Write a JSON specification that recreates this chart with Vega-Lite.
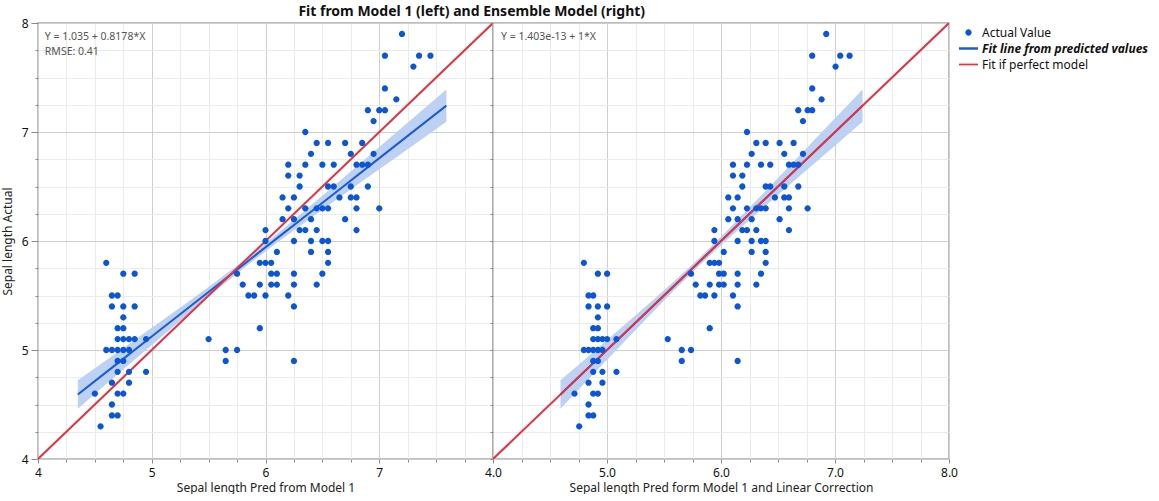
{
  "$schema": "https://vega.github.io/schema/vega-lite/v6.json",
  "background": "white",
  "padding": {"left": 0, "top": 5, "right": 0, "bottom": 0},
  "title": {"text": "Fit from Model 1 (left) and Ensemble Model (right)", "fontSize": 14, "fontWeight": "bold", "font": "Noto Sans", "anchor": "start", "dx": 298, "offset": -3, "color": "#111"},
  "datasets": {
    "pts": [
      {"p1":7.20,"ens":6.923,"actual":7.9},
      {"p1":7.05,"ens":6.800,"actual":7.7},{"p1":7.35,"ens":7.046,"actual":7.7},{"p1":7.45,"ens":7.128,"actual":7.7},
      {"p1":7.30,"ens":7.005,"actual":7.6},
      {"p1":7.05,"ens":6.800,"actual":7.4},
      {"p1":7.15,"ens":6.882,"actual":7.3},
      {"p1":6.90,"ens":6.678,"actual":7.2},{"p1":7.00,"ens":6.760,"actual":7.2},{"p1":7.05,"ens":6.800,"actual":7.2},
      {"p1":6.95,"ens":6.719,"actual":7.1},
      {"p1":6.35,"ens":6.228,"actual":7.0},
      {"p1":6.45,"ens":6.310,"actual":6.9},{"p1":6.55,"ens":6.392,"actual":6.9},{"p1":6.70,"ens":6.514,"actual":6.9},{"p1":6.85,"ens":6.637,"actual":6.9},
      {"p1":6.40,"ens":6.269,"actual":6.8},{"p1":6.75,"ens":6.555,"actual":6.8},{"p1":6.95,"ens":6.719,"actual":6.8},
      {"p1":6.20,"ens":6.105,"actual":6.7},{"p1":6.35,"ens":6.228,"actual":6.7},{"p1":6.50,"ens":6.351,"actual":6.7},{"p1":6.60,"ens":6.432,"actual":6.7},{"p1":6.80,"ens":6.596,"actual":6.7},{"p1":6.85,"ens":6.637,"actual":6.7},{"p1":6.90,"ens":6.678,"actual":6.7},
      {"p1":6.20,"ens":6.105,"actual":6.6},{"p1":6.30,"ens":6.187,"actual":6.6},
      {"p1":6.30,"ens":6.187,"actual":6.5},{"p1":6.55,"ens":6.392,"actual":6.5},{"p1":6.60,"ens":6.432,"actual":6.5},{"p1":6.75,"ens":6.555,"actual":6.5},{"p1":6.90,"ens":6.678,"actual":6.5},
      {"p1":6.15,"ens":6.064,"actual":6.4},{"p1":6.25,"ens":6.146,"actual":6.4},{"p1":6.65,"ens":6.473,"actual":6.4},{"p1":6.75,"ens":6.555,"actual":6.4},{"p1":6.80,"ens":6.596,"actual":6.4},
      {"p1":6.20,"ens":6.105,"actual":6.3},{"p1":6.35,"ens":6.228,"actual":6.3},{"p1":6.45,"ens":6.310,"actual":6.3},{"p1":6.50,"ens":6.351,"actual":6.3},{"p1":6.55,"ens":6.392,"actual":6.3},{"p1":6.80,"ens":6.596,"actual":6.3},{"p1":7.00,"ens":6.760,"actual":6.3},
      {"p1":6.15,"ens":6.064,"actual":6.2},{"p1":6.25,"ens":6.146,"actual":6.2},{"p1":6.40,"ens":6.269,"actual":6.2},{"p1":6.70,"ens":6.514,"actual":6.2},
      {"p1":6.00,"ens":5.942,"actual":6.1},{"p1":6.30,"ens":6.187,"actual":6.1},{"p1":6.35,"ens":6.228,"actual":6.1},{"p1":6.45,"ens":6.310,"actual":6.1},{"p1":6.80,"ens":6.596,"actual":6.1},
      {"p1":6.00,"ens":5.942,"actual":6.0},{"p1":6.25,"ens":6.146,"actual":6.0},{"p1":6.40,"ens":6.269,"actual":6.0},{"p1":6.50,"ens":6.351,"actual":6.0},{"p1":6.55,"ens":6.392,"actual":6.0},
      {"p1":6.10,"ens":6.024,"actual":5.9},{"p1":6.40,"ens":6.269,"actual":5.9},{"p1":6.55,"ens":6.392,"actual":5.9},
      {"p1":4.60,"ens":4.797,"actual":5.8},{"p1":5.95,"ens":5.901,"actual":5.8},{"p1":6.00,"ens":5.942,"actual":5.8},{"p1":6.05,"ens":5.983,"actual":5.8},{"p1":6.55,"ens":6.392,"actual":5.8},
      {"p1":4.75,"ens":4.920,"actual":5.7},{"p1":4.85,"ens":5.001,"actual":5.7},{"p1":5.75,"ens":5.737,"actual":5.7},{"p1":6.05,"ens":5.983,"actual":5.7},{"p1":6.10,"ens":6.024,"actual":5.7},{"p1":6.25,"ens":6.146,"actual":5.7},{"p1":6.50,"ens":6.351,"actual":5.7},
      {"p1":5.80,"ens":5.778,"actual":5.6},{"p1":5.95,"ens":5.901,"actual":5.6},{"p1":6.05,"ens":5.983,"actual":5.6},{"p1":6.10,"ens":6.024,"actual":5.6},{"p1":6.25,"ens":6.146,"actual":5.6},{"p1":6.45,"ens":6.310,"actual":5.6},
      {"p1":4.65,"ens":4.838,"actual":5.5},{"p1":4.70,"ens":4.879,"actual":5.5},{"p1":5.85,"ens":5.819,"actual":5.5},{"p1":5.90,"ens":5.860,"actual":5.5},{"p1":6.00,"ens":5.942,"actual":5.5},{"p1":6.20,"ens":6.105,"actual":5.5},
      {"p1":4.65,"ens":4.838,"actual":5.4},{"p1":4.75,"ens":4.920,"actual":5.4},{"p1":4.85,"ens":5.001,"actual":5.4},{"p1":6.25,"ens":6.146,"actual":5.4},
      {"p1":4.75,"ens":4.920,"actual":5.3},
      {"p1":4.70,"ens":4.879,"actual":5.2},{"p1":4.75,"ens":4.920,"actual":5.2},{"p1":5.95,"ens":5.901,"actual":5.2},
      {"p1":4.70,"ens":4.879,"actual":5.1},{"p1":4.75,"ens":4.920,"actual":5.1},{"p1":4.80,"ens":4.960,"actual":5.1},{"p1":4.85,"ens":5.001,"actual":5.1},{"p1":4.95,"ens":5.083,"actual":5.1},{"p1":5.50,"ens":5.533,"actual":5.1},
      {"p1":4.60,"ens":4.797,"actual":5.0},{"p1":4.65,"ens":4.838,"actual":5.0},{"p1":4.70,"ens":4.879,"actual":5.0},{"p1":4.75,"ens":4.920,"actual":5.0},{"p1":4.80,"ens":4.960,"actual":5.0},{"p1":5.65,"ens":5.656,"actual":5.0},{"p1":5.75,"ens":5.737,"actual":5.0},
      {"p1":4.70,"ens":4.879,"actual":4.9},{"p1":4.75,"ens":4.920,"actual":4.9},{"p1":5.65,"ens":5.656,"actual":4.9},{"p1":6.25,"ens":6.146,"actual":4.9},
      {"p1":4.70,"ens":4.879,"actual":4.8},{"p1":4.80,"ens":4.960,"actual":4.8},{"p1":4.95,"ens":5.083,"actual":4.8},
      {"p1":4.65,"ens":4.838,"actual":4.7},{"p1":4.80,"ens":4.960,"actual":4.7},
      {"p1":4.50,"ens":4.715,"actual":4.6},{"p1":4.70,"ens":4.879,"actual":4.6},{"p1":4.75,"ens":4.920,"actual":4.6},
      {"p1":4.65,"ens":4.838,"actual":4.5},
      {"p1":4.65,"ens":4.838,"actual":4.4},{"p1":4.70,"ens":4.879,"actual":4.4},
      {"p1":4.55,"ens":4.756,"actual":4.3}
    ],
    "band": [
      {"p1":4.35,"fit":4.592,"lo":4.462,"hi":4.722},
      {"p1":4.55,"fit":4.756,"lo":4.642,"hi":4.870},
      {"p1":4.80,"fit":4.960,"lo":4.866,"hi":5.054},
      {"p1":5.05,"fit":5.165,"lo":5.090,"hi":5.240},
      {"p1":5.30,"fit":5.369,"lo":5.311,"hi":5.427},
      {"p1":5.55,"fit":5.574,"lo":5.531,"hi":5.617},
      {"p1":5.85,"fit":5.819,"lo":5.784,"hi":5.854},
      {"p1":6.10,"fit":6.024,"lo":5.983,"hi":6.065},
      {"p1":6.40,"fit":6.269,"lo":6.211,"hi":6.327},
      {"p1":6.65,"fit":6.473,"lo":6.398,"hi":6.548},
      {"p1":6.90,"fit":6.678,"lo":6.584,"hi":6.772},
      {"p1":7.20,"fit":6.923,"lo":6.805,"hi":7.041},
      {"p1":7.59,"fit":7.242,"lo":7.093,"hi":7.391}
    ],
    "perfect": [{"v":4},{"v":8}]
  },
  "spacing": 0,
  "bounds": "flush",
  "hconcat": [
    {
      "width": 455,
      "height": 436,
      "layer": [
        {
          "data": {"name": "band"},
          "mark": {"type": "area", "color": "#bcd1f3", "opacity": 1},
          "encoding": {
            "x": {"field": "p1", "type": "quantitative", "scale": {"domain": [4, 8], "nice": false, "zero": false},
                  "axis": {"orient": "bottom", "values": [4.25,4.5,4.75,5.25,5.5,5.75,6.25,6.5,6.75,7.25,7.5,7.75], "labels": false, "title": null, "grid": true, "gridColor": "#ebebeb", "ticks": true, "tickSize": 3, "tickColor": "#8a8a8a", "domain": false}},
            "y": {"field": "lo", "type": "quantitative", "scale": {"domain": [4, 8], "nice": false, "zero": false},
                  "axis": {"orient": "left", "values": [4.25,4.5,4.75,5.25,5.5,5.75,6.25,6.5,6.75,7.25,7.5,7.75], "labels": false, "title": null, "grid": true, "gridColor": "#ebebeb", "ticks": true, "tickSize": 3, "tickColor": "#8a8a8a", "domain": false}},
            "y2": {"field": "hi"}
          }
        },
        {
          "data": {"name": "band"},
          "mark": {"type": "line", "color": "#1b5bd4", "strokeWidth": 2},
          "encoding": {
            "x": {"field": "p1", "type": "quantitative", "axis": null},
            "y": {"field": "fit", "type": "quantitative", "axis": null}
          }
        },
        {
          "data": {"name": "perfect"},
          "mark": {"type": "line", "color": "#e5323f", "strokeWidth": 2, "clip": true},
          "encoding": {
            "x": {"field": "v", "type": "quantitative", "axis": null},
            "y": {"field": "v", "type": "quantitative", "axis": null}
          }
        },
        {
          "data": {"name": "pts"},
          "mark": {"type": "point", "filled": true, "opacity": 1, "size": 361},
          "encoding": {
            "x": {"field": "p1", "type": "quantitative",
                  "axis": {"orient": "bottom", "values": [4,5,6,7], "format": "d", "title": "Sepal length Pred from Model 1", "grid": true, "gridColor": "#cfcfcf", "tickSize": 4, "tickColor": "#8a8a8a", "domain": false, "labelFlush": false, "labelOverlap": false, "labelPadding": 4, "titlePadding": 4}},
            "y": {"field": "actual", "type": "quantitative",
                  "axis": {"orient": "left", "values": [4,5,6,7,8], "format": "d", "title": "Sepal length Actual", "grid": true, "gridColor": "#cfcfcf", "tickSize": 7, "tickColor": "#8a8a8a", "domain": false, "labelFlush": false, "labelOverlap": false, "labelPadding": 3, "titlePadding": 7}},
            "color": {"datum": "Actual Value", "type": "nominal",
                      "scale": {"domain": ["Actual Value", "Fit line from predicted values", "Fit if perfect model"], "range": ["#0a56d6", "#1b5bd4", "#e5323f"]}},
            "shape": {"datum": "Actual Value", "type": "nominal",
                      "scale": {"domain": ["Actual Value", "Fit line from predicted values", "Fit if perfect model"], "range": ["M0,-0.33A0.33,0.33,0,1,1,0,0.33A0.33,0.33,0,1,1,0,-0.33Z", "M-1,-0.13H1V0.13H-1Z", "M-1,-0.09H1V0.09H-1Z"]}}
          }
        },
        {
          "data": {"values": [
            {"x": 4.06, "y": 7.873, "label": "Y = 1.035 + 0.8178*X"},
            {"x": 4.06, "y": 7.736, "label": "RMSE: 0.41"}
          ]},
          "mark": {"type": "text", "align": "left", "baseline": "middle", "fontSize": 10.5, "font": "Noto Sans", "color": "#555555"},
          "encoding": {
            "x": {"field": "x", "type": "quantitative", "axis": null},
            "y": {"field": "y", "type": "quantitative", "axis": null},
            "text": {"field": "label"}
          }
        }
      ],
      "resolve": {"axis": {"x": "independent", "y": "independent"}}
    },
    {
      "width": 456,
      "height": 436,
      "layer": [
        {
          "data": {"name": "band"},
          "mark": {"type": "area", "color": "#bcd1f3", "opacity": 1},
          "encoding": {
            "x": {"field": "fit", "type": "quantitative", "scale": {"domain": [4, 8], "nice": false, "zero": false},
                  "axis": {"orient": "bottom", "values": [4.25,4.5,4.75,5.25,5.5,5.75,6.25,6.5,6.75,7.25,7.5,7.75], "labels": false, "title": null, "grid": true, "gridColor": "#ebebeb", "ticks": true, "tickSize": 3, "tickColor": "#8a8a8a", "domain": false}},
            "y": {"field": "lo", "type": "quantitative", "scale": {"domain": [4, 8], "nice": false, "zero": false},
                  "axis": {"orient": "left", "values": [4.25,4.5,4.75,5.25,5.5,5.75,6.25,6.5,6.75,7.25,7.5,7.75], "labels": false, "title": null, "grid": true, "gridColor": "#ebebeb", "ticks": true, "tickSize": 3, "tickColor": "#8a8a8a", "domain": false, "minExtent": 0, "maxExtent": 0}},
            "y2": {"field": "hi"}
          }
        },
        {
          "data": {"name": "band"},
          "mark": {"type": "line", "color": "#1b5bd4", "strokeWidth": 2},
          "encoding": {
            "x": {"field": "fit", "type": "quantitative", "axis": null},
            "y": {"field": "fit", "type": "quantitative", "axis": null}
          }
        },
        {
          "data": {"name": "perfect"},
          "mark": {"type": "line", "color": "#e5323f", "strokeWidth": 2, "clip": true},
          "encoding": {
            "x": {"field": "v", "type": "quantitative", "axis": null},
            "y": {"field": "v", "type": "quantitative", "axis": null}
          }
        },
        {
          "data": {"name": "pts"},
          "mark": {"type": "point", "filled": true, "opacity": 1, "size": 361},
          "encoding": {
            "x": {"field": "ens", "type": "quantitative",
                  "axis": {"orient": "bottom", "values": [4,5,6,7,8], "format": ".1f", "title": "Sepal length Pred form Model 1 and Linear Correction", "grid": true, "gridColor": "#cfcfcf", "tickSize": 4, "tickColor": "#8a8a8a", "domain": false, "labelFlush": false, "labelOverlap": false, "labelPadding": 4, "titlePadding": 4}},
            "y": {"field": "actual", "type": "quantitative",
                  "axis": {"orient": "left", "values": [4,5,6,7,8], "labels": false, "ticks": true, "tickSize": 3, "tickColor": "#8a8a8a", "title": null, "grid": true, "gridColor": "#cfcfcf", "domain": false, "minExtent": 0, "maxExtent": 0}},
            "color": {"datum": "Actual Value", "type": "nominal"},
            "shape": {"datum": "Actual Value", "type": "nominal"}
          }
        },
        {
          "data": {"values": [
            {"x": 4.07, "y": 7.873, "label": "Y = 1.403e-13 + 1*X"}
          ]},
          "mark": {"type": "text", "align": "left", "baseline": "middle", "fontSize": 10.5, "font": "Noto Sans", "color": "#555555"},
          "encoding": {
            "x": {"field": "x", "type": "quantitative", "axis": null},
            "y": {"field": "y", "type": "quantitative", "axis": null},
            "text": {"field": "label"}
          }
        }
      ],
      "resolve": {"axis": {"x": "independent", "y": "independent"}}
    }
  ],
  "config": {
    "font": "Noto Sans",
    "view": {"stroke": "#a8a8a8", "strokeWidth": 1.5},
    "axis": {"labelFontSize": 12, "titleFontSize": 12, "titleFontWeight": "normal", "labelColor": "#111", "titleColor": "#222", "labelFont": "Noto Sans", "titleFont": "Noto Sans"},
    "legend": {"title": null, "orient": "right", "offset": 0, "symbolSize": 361, "labelFontSize": 12, "labelFont": "Noto Sans", "labelColor": "#111", "labelLimit": 400, "rowPadding": -2, "symbolStrokeWidth": 0, "padding": 0,
               "labelFontWeight": {"expr": "datum.label === 'Fit line from predicted values' ? 'bold' : 'normal'"},
               "labelFontStyle": {"expr": "datum.label === 'Fit line from predicted values' ? 'italic' : 'normal'"}}
  }
}
